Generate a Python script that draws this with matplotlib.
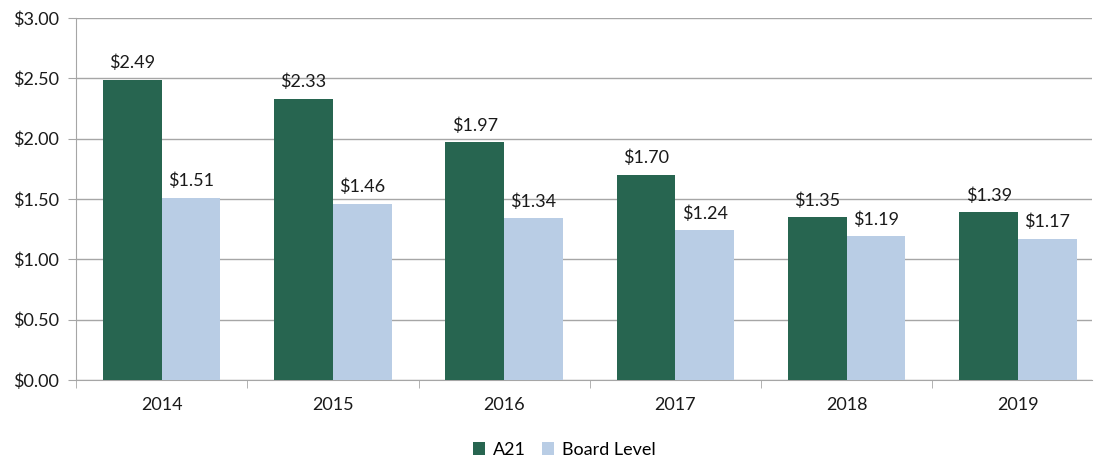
import matplotlib
matplotlib.use("Agg")
import matplotlib.pyplot as plt
import numpy as np

plt.rcParams['font.family'] = ['Lato', 'DejaVu Sans']

years = ["2014", "2015", "2016", "2017", "2018", "2019"]
a21 = [2.49, 2.33, 1.97, 1.70, 1.35, 1.39]
board = [1.51, 1.46, 1.34, 1.24, 1.19, 1.17]
yticks = [0.0, 0.5, 1.0, 1.5, 2.0, 2.5, 3.0]

green = "#276550"
blue = "#B9CDE5"
grid = "#A6A6A6"
fs = 13

fig = plt.figure(figsize=(10.94, 4.62), dpi=100)
ax = fig.add_axes([76/1094, 1-380/462, (1092-76)/1094, (380-18)/462])

x = np.arange(len(years))
w = 0.343
b1 = ax.bar(x - w/2, a21, w, color=green, label="A21", zorder=3)
b2 = ax.bar(x + w/2, board, w, color=blue, label="Board Level", zorder=3)

for rect, v in zip(b1, a21):
    ax.text(rect.get_x() + rect.get_width()/2, v + 0.07, f"${v:.2f}",
            ha="center", va="bottom", fontsize=fs, color="#1a1a1a", zorder=4)
for rect, v in zip(b2, board):
    ax.text(rect.get_x() + rect.get_width()/2, v + 0.07, f"${v:.2f}",
            ha="center", va="bottom", fontsize=fs, color="#1a1a1a", zorder=4)

ax.set_xlim(-0.5, len(years) - 0.568)
ax.set_ylim(0, 3.0)
ax.set_yticks(yticks)
ax.set_yticklabels([f"${t:.2f}" for t in yticks], fontsize=fs, color="#1a1a1a")
ax.yaxis.grid(True, color=grid, linewidth=1.0, zorder=0)
ax.set_axisbelow(True)

ax.set_xticks(x)
ax.set_xticklabels(years, fontsize=fs, color="#1a1a1a")
ax.tick_params(axis="x", length=0, pad=12)
ax.set_xticks(np.arange(-0.5, len(years) - 0.6), minor=True)
ax.tick_params(axis="x", which="minor", length=6, color=grid, direction="out")
ax.tick_params(axis="y", length=6, color=grid, pad=6)

for s in ["top", "right"]:
    ax.spines[s].set_visible(False)
ax.spines["left"].set_color(grid)
ax.spines["bottom"].set_color(grid)

leg = fig.legend(handles=[b1, b2], labels=["A21", "Board Level"], loc="center",
                 bbox_to_anchor=(564/1094, 1 - 450/462), ncol=2, frameon=False,
                 fontsize=fs, handlelength=0.7, handleheight=0.7,
                 handletextpad=0.4, columnspacing=0.9)

fig.savefig("out.png", dpi=100)
